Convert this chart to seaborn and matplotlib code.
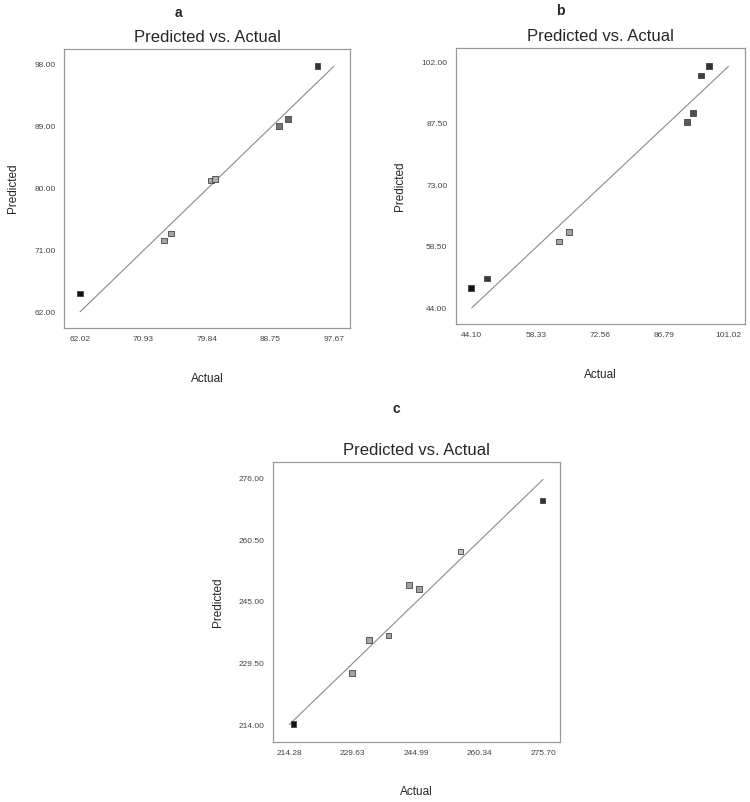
import matplotlib
matplotlib.use('Agg')
import matplotlib.pyplot as plt
import seaborn as sns
import pandas as pd
from matplotlib.colors import LinearSegmentedColormap

# ================= data =================
# panel a
a_actual = [62.0, 73.8, 74.8, 80.4, 81.0, 90.0, 91.2, 95.4]
a_pred = [64.7, 72.4, 73.4, 81.1, 81.3, 89.0, 90.0, 97.7]
a_xticks = [62.02, 70.93, 79.84, 88.75, 97.67]
a_yticks = [62.00, 71.00, 80.00, 89.00, 98.00]

# panel b
b_actual = [44.0, 47.5, 63.5, 65.7, 91.8, 93.2, 94.9, 96.7]
b_pred = [48.8, 51.0, 59.8, 62.0, 87.9, 90.1, 98.9, 101.1]
b_xticks = [44.10, 58.33, 72.56, 86.79, 101.02]
b_yticks = [44.00, 58.50, 73.00, 87.50, 102.00]

# panel c
c_actual = [215.3, 229.5, 233.6, 238.3, 243.2, 245.7, 255.7, 275.6]
c_pred = [214.4, 227.2, 235.5, 236.6, 249.3, 248.2, 257.6, 270.4]
c_xticks = [214.28, 229.63, 244.99, 260.34, 275.70]
c_yticks = [214.00, 229.50, 245.00, 260.50, 276.00]

panel_labels = ['a', 'b', 'c']

sns.set_style('white')
plt.rcParams['font.family'] = ['Liberation Sans', 'DejaVu Sans']

# grey version of the design-expert point colouring (dark at both ends)
gray_cmap = LinearSegmentedColormap.from_list(
    'dx_gray', [(0, '#111111'), (0.25, '#aaaaaa'), (0.5, '#a0a0a0'),
                (0.68, '#c0c0c0'), (0.8, '#888888'), (1.0, '#333333')])

W, H = 750, 802
fig = plt.figure(figsize=(W / 100, H / 100), dpi=100)

# axes boxes in figure fractions
boxes = [
    [0.0853, 0.591, 0.3813, 0.348],
    [0.6076, 0.596, 0.3857, 0.3445],
    [0.364, 0.0752, 0.3827, 0.3484],
]
limits = [
    ((59.77, 99.93), (59.68, 100.19)),
    ((40.55, 104.7), (40.3, 105.45)),
    ((210.33, 279.82), (209.99, 280.0)),
]
# panel letter positions (pixels from top-left)
label_pos = [(178, 13), (560, 11), (396, 409)]
panels = [
    (a_actual, a_pred, a_xticks, a_yticks),
    (b_actual, b_pred, b_xticks, b_yticks),
    (c_actual, c_pred, c_xticks, c_yticks),
]

for box, lim, (act, pred, xt, yt), lab, lp in zip(boxes, limits, panels, panel_labels, label_pos):
    ax = fig.add_axes(box)
    df = pd.DataFrame({'Actual': act, 'Predicted': pred})

    # y = x reference line across the tick range
    ax.plot([xt[0], xt[-1]], [xt[0], xt[-1]], color='#8a8a8a', lw=0.8, zorder=1)

    sns.scatterplot(data=df, x='Actual', y='Predicted', hue='Actual',
                    palette=gray_cmap, hue_norm=(min(act), max(act)),
                    marker='s', s=16, edgecolor='#444444', linewidth=0.6,
                    legend=False, ax=ax, zorder=3)

    ax.set_xlim(*lim[0])
    ax.set_ylim(*lim[1])
    ax.set_xticks(xt)
    ax.set_yticks(yt)
    ax.set_xticklabels([f'{v:.2f}' for v in xt])
    ax.set_yticklabels([f'{v:.2f}' for v in yt])
    ax.tick_params(axis='both', direction='out', length=3, width=0.6,
                   color='#888888', labelsize=6, labelcolor='#444444', pad=3)
    for sp in ax.spines.values():
        sp.set_color('#999999')
        sp.set_linewidth(0.9)

    ax.set_title('Predicted vs. Actual', fontsize=12, pad=5)
    ax.set_xlabel('Actual', fontsize=8.5, labelpad=21)
    ax.set_ylabel('Predicted', fontsize=8.5, labelpad=11)
    fig.text(lp[0] / W, 1 - lp[1] / H, lab, ha='center', va='center',
             fontsize=10, fontweight='bold')

fig.savefig('out.png', dpi=100, facecolor='white')
